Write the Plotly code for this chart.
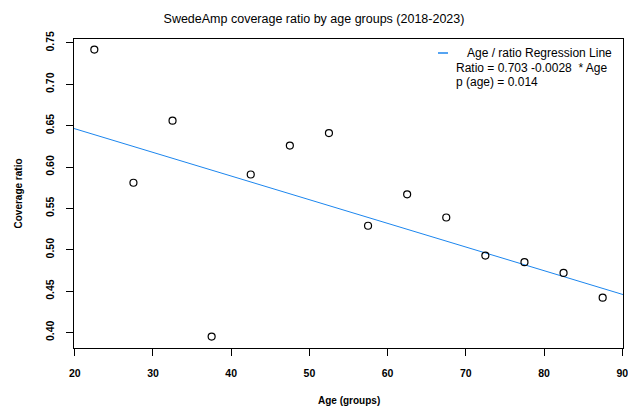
import plotly.graph_objects as go

age_groups = [22.5, 27.5, 32.5, 37.5, 42.5, 47.5, 52.5, 57.5, 62.5, 67.5, 72.5, 77.5, 82.5, 87.5]
coverage_ratio = [0.742, 0.581, 0.656, 0.395, 0.591, 0.626, 0.641, 0.529, 0.567, 0.539, 0.493, 0.485, 0.472, 0.442]
# fitted regression line
intercept = 0.7035
slope = -0.00286
# legend text as printed in the chart
legend_title = "Age / ratio Regression Line"
legend_formula = "Ratio = 0.703 -0.0028  * Age"
legend_p = "p (age) = 0.014"
x_ticks = [20, 30, 40, 50, 60, 70, 80, 90]
y_ticks = [0.40, 0.45, 0.50, 0.55, 0.60, 0.65, 0.70, 0.75]

xr = [19.9, 90.1]
yr = [0.3812, 0.7548]
line_x = xr
line_y = [intercept + slope * x for x in line_x]

line_color = "#1C86EE"
font = "Liberation Sans, Arial, sans-serif"

W, H = 628, 406
L, R, T, B = 74, 5, 39, 58
pw, ph = W - L - R, H - T - B


def px(x):
    return (x - L) / pw


def py(y):
    return 1 - (y - T) / ph


fig = go.Figure()
fig.add_trace(go.Scatter(x=line_x, y=line_y, mode="lines",
                         line=dict(color=line_color, width=1), showlegend=False, hoverinfo="skip"))
fig.add_trace(go.Scatter(x=age_groups, y=coverage_ratio, mode="markers",
                         marker=dict(symbol="circle-open", size=7, color="black",
                                     line=dict(width=1.2, color="black")),
                         showlegend=False))

fig.update_layout(
    width=W, height=H,
    margin=dict(l=L, r=R, t=T, b=B),
    paper_bgcolor="white", plot_bgcolor="white",
    font=dict(family=font, color="black"),
    title=dict(text="SwedeAmp coverage ratio by age groups (2018-2023)", x=0.5, xanchor="center",
               y=1 - 19 / H, yanchor="middle", font=dict(size=12.5, family=font)),
    xaxis=dict(range=xr, tickvals=x_ticks, ticktext=[str(v) for v in x_ticks],
               showgrid=False, zeroline=False, showline=True, linecolor="black", linewidth=1, mirror=True,
               ticks="outside", ticklen=7, tickcolor="black", ticklabelstandoff=8,
               ticklabeloverflow="allow",
               tickfont=dict(size=10.5, family=font, weight="bold"), automargin=False),
    yaxis=dict(range=yr, tickvals=y_ticks, ticktext=["%.2f" % v for v in y_ticks],
               showgrid=False, zeroline=False, showline=True, linecolor="black", linewidth=1, mirror=True,
               ticks="outside", ticklen=7, tickcolor="black", tickangle=-90, ticklabelstandoff=8,
               ticklabeloverflow="allow",
               tickfont=dict(size=10.5, family=font, weight="bold"), automargin=False),
)

# axis titles
fig.add_annotation(xref="paper", yref="paper", x=0.5, y=py(400), xanchor="center", yanchor="middle",
                   showarrow=False, text="<b>Age (groups)</b>", font=dict(size=10, family=font))
fig.add_annotation(xref="paper", yref="paper", x=px(18), y=0.5, xanchor="center", yanchor="middle",
                   textangle=-90, showarrow=False, text="<b>Coverage ratio</b>", font=dict(size=10, family=font))

# legend
fig.add_shape(type="line", xref="paper", yref="paper", x0=px(438), x1=px(448), y0=py(53), y1=py(53),
              line=dict(color=line_color, width=1.5))
legend_rows = [
    (legend_title, 465, 53),
    (legend_formula, 454, 68),
    (legend_p, 454, 82),
]
for txt, lx, ly in legend_rows:
    fig.add_annotation(xref="paper", yref="paper", x=px(lx), y=py(ly), xanchor="left", yanchor="middle",
                       align="left", showarrow=False, text=txt, font=dict(size=12, family=font))

fig.write_html("out.html", config={"displayModeBar": False},
               post_script="document.body.style.margin='0px';")
